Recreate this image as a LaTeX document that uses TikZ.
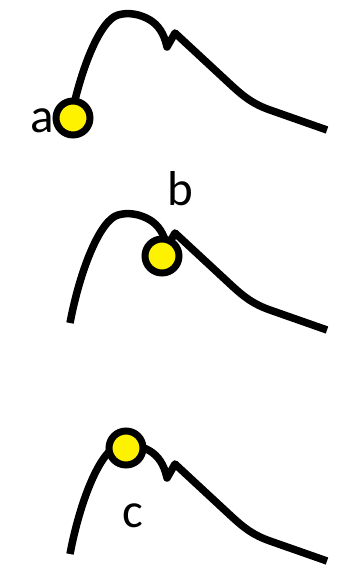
\documentclass[tikz,border=0pt]{standalone}
\usepackage{fontspec}
\setmainfont{Carlito}
\usetikzlibrary{positioning}

\begin{document}
\begin{tikzpicture}[x=1pt, y=-1pt,
  hill/.pic={
    \draw[line width=7.5pt, line join=round]
      (70,123) .. controls (80,70) and (100,20) .. (118,15)
      .. controls (128,12) and (140,14) .. (150,20)
      .. controls (158,25) and (164,33) .. (167,47)
      -- (175,33) -- (230,84)
      .. controls (244,97) and (253,104) .. (270,110) -- (327,130);
  },
  ball/.style={circle, draw, line width=7pt, fill=yellow, minimum size=34pt, inner sep=0pt},
  letter/.style={anchor=base, inner sep=0pt, font=\fontsize{49}{49}\selectfont}
]
\useasboundingbox (0,0) rectangle (345,577);

% the three hills
\path (0,0) pic (hilla) {hill};
\path (0,200) pic (hillb) {hill};
\path (0,431) pic (hillc) {hill};

% balls
\node[ball] (balla) at (73,118) {};
\node[ball] (ballb) at (162,256) {};
\node[ball] (ballc) at (126,448) {};

% labels
\node[letter] (laba) at (42.5,133) {a};
\node[letter] (labb) at (180.5,205) {b};
\node[letter] (labc) at (132.5,527) {c};

\end{tikzpicture}
\end{document}
